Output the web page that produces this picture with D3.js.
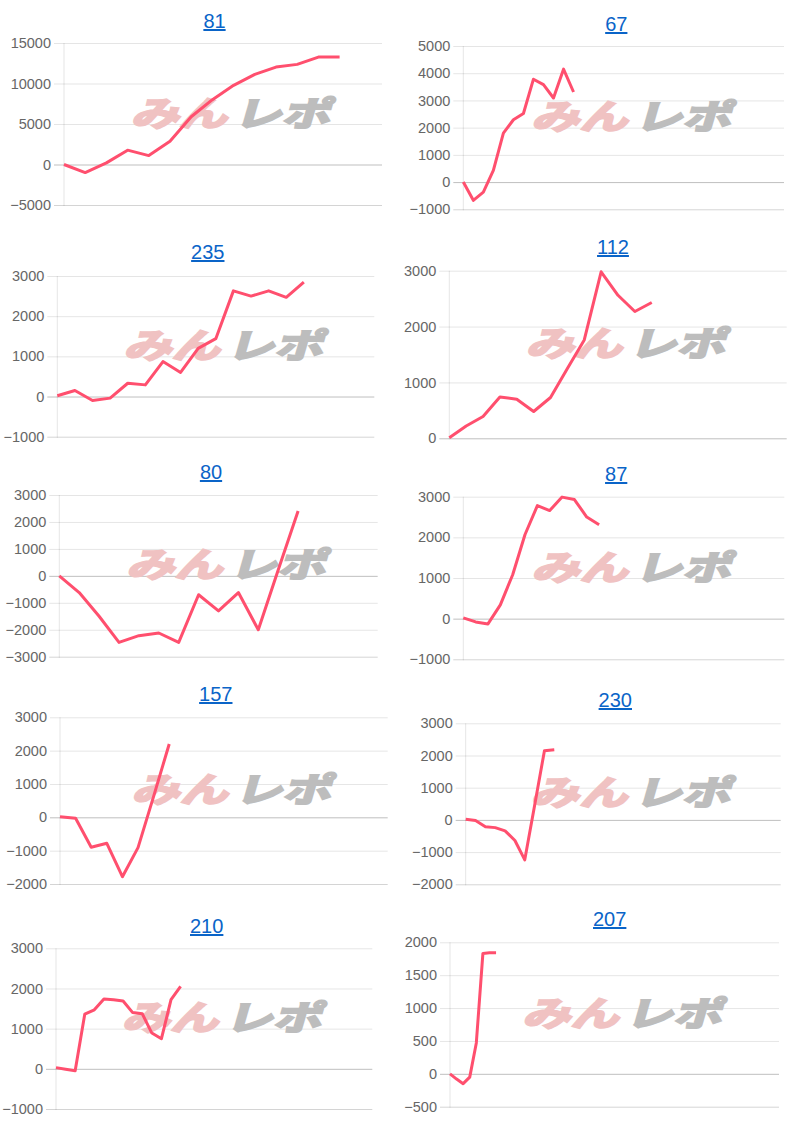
<!DOCTYPE html>
<html>
<head>
<meta charset="utf-8">
<script src="https://cdn.jsdelivr.net/npm/d3@7"></script>
<style>
  html, body { margin: 0; padding: 0; background: #fff; }
  svg { display: block; }
  .tick-label { font-family: "Liberation Sans", Arial, Helvetica, sans-serif; font-size: 14.5px; fill: #666; }
  .title { font-family: "Liberation Sans", Arial, Helvetica, sans-serif; font-size: 20px; fill: #0a64c8; text-decoration: underline; }
  .wm { font-family: "Noto Sans CJK JP", sans-serif; font-weight: bold; font-size: 46px; stroke-width: 3px; stroke-linejoin: miter; }
</style>
</head>
<body>
<svg id="chart" width="800" height="1125"></svg>
<script>
// ---------- DATA ----------
const titles = ["81", "67", "235", "112", "80", "87", "157", "230", "210", "207"];
// number of x categories (days) on each chart's axis
const dayCounts = [16, 33, 19, 21, 17, 27, 22, 33, 34, 51];

const values81  = [0, -1000, 200, 1770, 1100, 2870, 5900, 8000, 9770, 11120, 12030, 12360, 13260, 13260];
const values67  = [0, -670, -370, 430, 1800, 2290, 2520, 3780, 3580, 3090, 4150, 3310];
const values235 = [20, 150, -100, -40, 330, 290, 870, 600, 1200, 1440, 2630, 2500, 2630, 2470, 2850];
const values112 = [10, 220, 390, 740, 700, 480, 730, 1250, 1760, 2980, 2560, 2270, 2430];
const values80  = [0, -620, -1500, -2470, -2220, -2120, -2470, -700, -1300, -620, -2000, 220, 2410];
const values87  = [20, -80, -130, 340, 1080, 2070, 2780, 2660, 2990, 2930, 2500, 2310];
const values157 = [20, -30, -900, -780, -1780, -910, 630, 2200];
const values230 = [20, -20, -210, -240, -340, -640, -1240, 450, 2150, 2180];
const values210 = [30, -10, -50, 1360, 1470, 1740, 1720, 1690, 1400, 1370, 890, 750, 1720, 2050];
const values207 = [0, -80, -150, -50, 470, 1830, 1840, 1840];

const yTicks81  = [-5000, 0, 5000, 10000, 15000];
const yTicks67  = [-1000, 0, 1000, 2000, 3000, 4000, 5000];
const yTicks235 = [-1000, 0, 1000, 2000, 3000];
const yTicks112 = [0, 1000, 2000, 3000];
const yTicks80  = [-3000, -2000, -1000, 0, 1000, 2000, 3000];
const yTicks87  = [-1000, 0, 1000, 2000, 3000];
const yTicks157 = [-2000, -1000, 0, 1000, 2000, 3000];
const yTicks230 = [-2000, -1000, 0, 1000, 2000, 3000];
const yTicks210 = [-1000, 0, 1000, 2000, 3000];
const yTicks207 = [-500, 0, 500, 1000, 1500, 2000];

const allValues = [values81, values67, values235, values112, values80, values87, values157, values230, values210, values207];
const allTicks  = [yTicks81, yTicks67, yTicks235, yTicks112, yTicks80, yTicks87, yTicks157, yTicks230, yTicks210, yTicks207];

// ---------- LAYOUT (positions only) ----------
const layout = [
  {l: 64,    r: 382,   t: 43,    b: 205,    tx: 214.5, ty: 28},
  {l: 463.3, r: 784,   t: 46,    b: 209.3,  tx: 616.3, ty: 31},
  {l: 57.3,  r: 374.3, t: 276,   b: 436.7,  tx: 207.8, ty: 259},
  {l: 449.3, r: 786.7, t: 270.7, b: 438.3,  tx: 613,   ty: 254},
  {l: 59.3,  r: 377.7, t: 495,   b: 656.7,  tx: 211,   ty: 479},
  {l: 463.3, r: 784.3, t: 496.7, b: 659.3,  tx: 616.2, ty: 481},
  {l: 60,    r: 387.7, t: 717.3, b: 884,    tx: 215.8, ty: 701},
  {l: 465.7, r: 780.7, t: 723.3, b: 884.3,  tx: 615.3, ty: 707},
  {l: 56,    r: 372.3, t: 948.3, b: 1109,   tx: 206.7, ty: 933},
  {l: 450,   r: 779,   t: 942.3, b: 1106.7, tx: 609.7, ty: 926}
];

const lineColor = "#ff4f6e";
const svg = d3.select("#chart");

titles.forEach((title, i) => {
  const L = layout[i];
  const vals = allValues[i];
  const ticks = allTicks[i];
  const g = svg.append("g");

  const x = d3.scalePoint().domain(d3.range(dayCounts[i])).range([L.l, L.r]);
  const y = d3.scaleLinear().domain(d3.extent(ticks)).range([L.b, L.t]);

  // title
  g.append("text").attr("class", "title")
    .attr("x", L.tx).attr("y", L.ty).attr("text-anchor", "middle").text(title);

  // y axis via d3.axisLeft, styled as Chart.js-like gridlines
  const yAxis = d3.axisLeft(y).tickValues(ticks).tickSize(-(L.r - L.l) - 10).tickPadding(3).tickFormat(d3.format("d"));
  const ag = g.append("g").attr("transform", `translate(${L.l - 10},0)`).call(yAxis);
  ag.select(".domain").remove();
  ag.selectAll(".tick line")
    .attr("stroke", d => d === 0 ? "rgba(0,0,0,0.25)" : (d === ticks[0] ? "rgba(0,0,0,0.17)" : "rgba(0,0,0,0.1)"))
    .attr("stroke-width", 1);
  ag.selectAll(".tick text").attr("class", "tick-label").attr("fill", null);
  ag.attr("font-family", null).attr("font-size", null);

  // watermark (logo text)
  const cx = (L.l + L.r) / 2 + 12, cy = (L.t + L.b) / 2 - 11;
  const wm = g.append("g").attr("transform", `translate(${cx},${cy}) skewX(-16) scale(1.05,0.74)`);
  wm.append("text").attr("class", "wm").attr("x", -4).attr("y", 17)
    .attr("text-anchor", "end").attr("fill", "#f0c2c2").attr("stroke", "#f0c2c2").text("みん");
  wm.append("text").attr("class", "wm").attr("x", 2).attr("y", 17)
    .attr("text-anchor", "start").attr("fill", "#bdbdbd").attr("stroke", "#bdbdbd").text("レポ");

  // left axis line
  g.append("line").attr("x1", L.l).attr("x2", L.l).attr("y1", L.t).attr("y2", L.b + 1)
    .attr("stroke", "rgba(0,0,0,0.1)").attr("stroke-width", 1);

  // data line
  const line = d3.line().x((d, k) => x(k)).y(d => y(d));
  g.append("path").datum(vals).attr("d", line)
    .attr("fill", "none").attr("stroke", lineColor).attr("stroke-width", 3)
    .attr("stroke-linejoin", "round").attr("stroke-linecap", "butt");
});
</script>
</body>
</html>
